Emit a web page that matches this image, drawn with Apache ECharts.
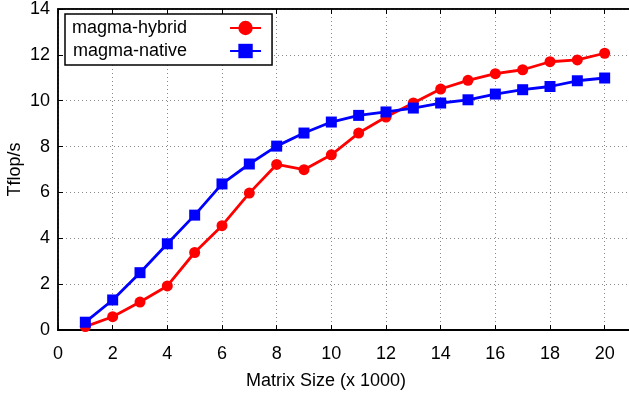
<!DOCTYPE html>
<html>
<head>
<meta charset="utf-8">
<script src="https://cdn.jsdelivr.net/npm/echarts@6/dist/echarts.min.js"></script>
<style>
  html, body { margin: 0; padding: 0; background: #fff; }
  #main { width: 629px; height: 394px; }
</style>
</head>
<body>
<div id="main"></div>
<script>
var dom = document.getElementById("main");
var myChart = echarts.init(dom);

var sizes = [1, 2, 3, 4, 5, 6, 7, 8, 9, 10, 11, 12, 13, 14, 15, 16, 17, 18, 19, 20];
var hybrid = [0.15, 0.58, 1.22, 1.92, 3.38, 4.55, 5.97, 7.22, 6.99, 7.64,
              8.59, 9.29, 9.90, 10.51, 10.89, 11.18, 11.35, 11.70, 11.78, 12.07];
var native = [0.34, 1.31, 2.50, 3.76, 5.01, 6.37, 7.24, 8.02, 8.59, 9.07,
              9.36, 9.51, 9.68, 9.90, 10.04, 10.29, 10.48, 10.62, 10.87, 10.99];

function pairs(ys) {
    return sizes.map(function (x, i) { return [x, ys[i]]; });
}

var font = 'Liberation Sans';
var grid = { color: '#888', type: [1, 3], width: 1 };

option = {
    animation: false,
    textStyle: { fontFamily: font },
    grid: {
        left: 58, right: -3, top: 9, bottom: 64, outerBoundsMode: 'none',
        show: true, borderColor: '#000', borderWidth: 1.5
    },
    legend: {
        left: 65,
        top: 14,
        orient: 'vertical',
        align: 'right',
        backgroundColor: '#fff',
        borderColor: '#000',
        borderWidth: 1.5,
        padding: [5, 10, 5, 7],
        itemGap: 5,
        itemWidth: 31,
        itemHeight: 18,
        textStyle: { fontSize: 18, color: '#000', fontFamily: font, padding: [0, 38, 0, 0] },
        data: ['magma-hybrid', 'magma-native']
    },
    xAxis: [{
        type: 'value',
        min: 0,
        max: 21,
        interval: 2,
        name: 'Matrix Size (x 1000)',
        nameLocation: 'middle',
        nameGap: 42,
        nameMoveOverlap: false,
        nameTextStyle: { fontSize: 18, color: '#000', padding: [0, 38, 0, 0] },
        axisLine: { lineStyle: { color: '#000', width: 2 } },
        axisTick: { inside: true, length: 5, lineStyle: { color: '#000' } },
        axisLabel: {
            fontSize: 18, color: '#000', margin: 15,
            formatter: function (v) { return v % 2 === 0 ? v : ''; }
        },
        splitLine: { show: true, lineStyle: grid }
    }, {
        type: 'value',
        position: 'top',
        min: 0,
        max: 21,
        interval: 2,
        axisLine: { show: true, lineStyle: { color: '#000', width: 1.5 } },
        axisTick: { show: true, inside: true, length: 5, lineStyle: { color: '#000' } },
        axisLabel: { show: false },
        splitLine: { show: false }
    }],
    yAxis: {
        type: 'value',
        min: 0,
        max: 14,
        interval: 2,
        name: 'Tflop/s',
        nameLocation: 'middle',
        nameGap: 34,
        nameMoveOverlap: false,
        nameTextStyle: { fontSize: 18, color: '#000' },
        axisLine: { show: true, lineStyle: { color: '#000', width: 1.5 } },
        axisTick: { show: true, inside: true, length: 5, lineStyle: { color: '#000' } },
        axisLabel: { fontSize: 18, color: '#000', margin: 8 },
        splitLine: { show: true, lineStyle: grid }
    },
    series: [{
        name: 'magma-hybrid',
        type: 'line',
        data: pairs(hybrid),
        symbol: 'circle',
        symbolSize: 11,
        lineStyle: { color: '#f00', width: 2.8 },
        itemStyle: { color: '#f00' },
        z: 3
    }, {
        name: 'magma-native',
        type: 'line',
        data: pairs(native),
        symbol: 'rect',
        symbolSize: 11,
        lineStyle: { color: '#00f', width: 2.8 },
        itemStyle: { color: '#00f' },
        z: 4
    }]
};
myChart.setOption(option);
</script>
</body>
</html>
